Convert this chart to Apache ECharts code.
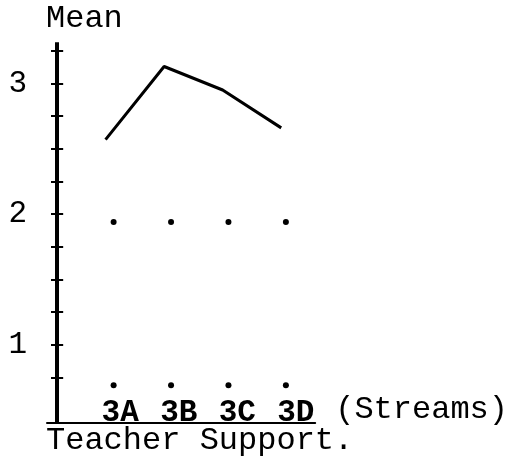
<!DOCTYPE html>
<html>
<head>
<meta charset="utf-8">
<script src="https://cdn.jsdelivr.net/npm/echarts@6/dist/echarts.min.js"></script>
<style>
    html, body { margin: 0; padding: 0; background: #fff; }
    #chart { width: 511px; height: 460px; }
</style>
</head>
<body>
<div id="chart"></div>
<script>
// data
var streams = ['3A', '3B', '3C', '3D']
var meanValues = [2.57, 3.13, 2.95, 2.66]
var upperDots = [1.94, 1.94, 1.94, 1.94]
var lowerDots = [0.69, 0.69, 0.69, 0.69]
var yTickValues = [0.75, 1, 1.25, 1.5, 1.75, 2, 2.25, 2.5, 2.75, 3, 3.25]
var yLabelValues = [1, 2, 3]

var fontFamily = "'Liberation Mono', 'Courier New', monospace"
var ink = '#000'

function toPoints(values) {
    return values.map(function (v, i) { return [i + 1, v] })
}

var myChart = echarts.init(document.getElementById('chart'))

var option = {
    backgroundColor: '#fff',
    animation: false,
    title: [
        {
            text: 'Mean',
            left: 46, top: 3, padding: 0,
            textStyle: { fontFamily: fontFamily, fontSize: 32, fontWeight: 'normal', color: ink }
        },
        {
            text: 'Teacher Support.',
            left: 46, top: 425, padding: 0,
            textStyle: { fontFamily: fontFamily, fontSize: 32, fontWeight: 'normal', color: ink }
        }
    ],
    grid: { left: 47, right: 194, top: 43, bottom: 37 },
    xAxis: [
        {
            // axis carrying the stream labels
            type: 'value',
            min: -0.25,
            max: 4.33,
            name: '(Streams)',
            nameLocation: 'end',
            nameGap: 20,
            nameTextStyle: { fontFamily: fontFamily, fontSize: 32, lineHeight: 26, color: ink, verticalAlign: 'bottom' },
            axisLine: { show: true, onZero: false, lineStyle: { color: ink, width: 2 } },
            axisTick: { show: false },
            splitLine: { show: false },
            axisLabel: {
                inside: true,
                margin: -6,
                customValues: [1, 2, 3, 4],
                formatter: function (v) { return streams[Math.round(v) - 1] || '' },
                fontFamily: fontFamily,
                fontSize: 31,
                fontWeight: 'bold',
                color: ink
            }
        },
        { type: 'value', min: 0, max: 4.58, show: false, splitLine: { show: false } },
        { type: 'value', min: -0.16, max: 4.51, show: false, splitLine: { show: false } }
    ],
    yAxis: [
        {
            type: 'value',
            offset: -11,
            min: 0.4,
            max: 3.31,
            splitLine: { show: false },
            axisLine: { show: true, onZero: false, lineStyle: { color: ink, width: 2 } },
            axisTick: { show: true, length: 7, customValues: yTickValues, lineStyle: { color: ink, width: 2 } },
            axisLabel: {
                customValues: yLabelValues,
                margin: 31,
                fontFamily: fontFamily,
                fontSize: 31,
                color: ink
            }
        },
        {
            // same axis again, moved over from the right, for the other half of the crossing ticks
            type: 'value',
            position: 'right',
            offset: -259,
            min: 0.4,
            max: 3.31,
            splitLine: { show: false },
            axisLine: { show: true, onZero: false, lineStyle: { color: ink, width: 2 } },
            axisTick: { show: true, length: 7, customValues: yTickValues, lineStyle: { color: ink, width: 2 } },
            axisLabel: { show: false }
        }
    ],
    series: [
        {
            name: 'Mean',
            type: 'line',
            xAxisIndex: 1,
            data: toPoints(meanValues),
            symbol: 'none',
            lineStyle: { color: ink, width: 3 }
        },
        {
            type: 'scatter',
            xAxisIndex: 2,
            data: toPoints(upperDots),
            symbolSize: 6,
            itemStyle: { color: ink, opacity: 1 }
        },
        {
            type: 'scatter',
            xAxisIndex: 2,
            data: toPoints(lowerDots),
            symbolSize: 6,
            itemStyle: { color: ink, opacity: 1 }
        }
    ]
}
myChart.setOption(option)
</script>
</body>
</html>
